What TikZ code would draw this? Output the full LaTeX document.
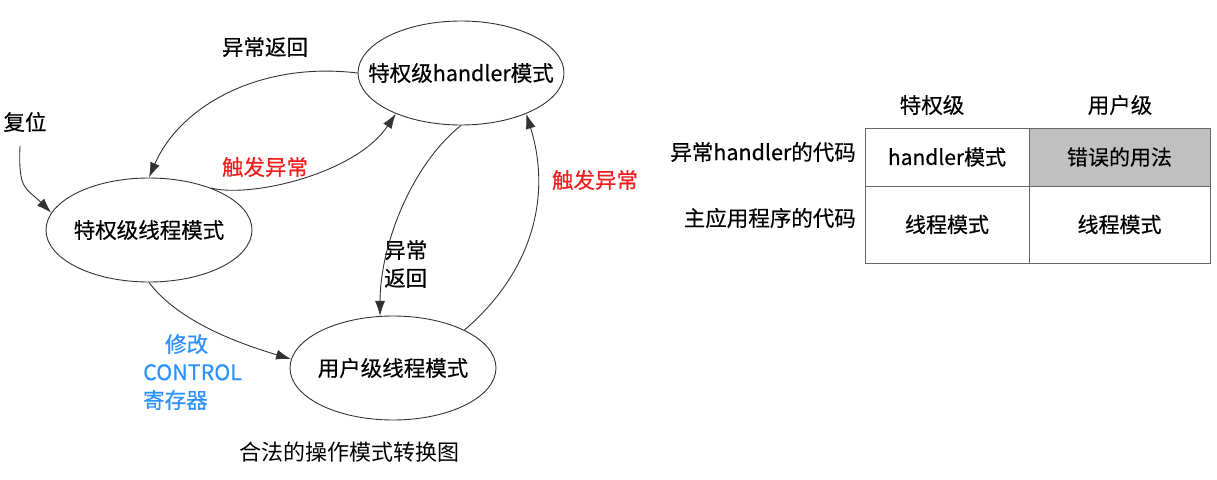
\documentclass[tikz,border=0pt]{standalone}
\usepackage{fontspec}
\setmainfont{Noto Sans CJK SC}
\newfontfamily\diagfont{Noto Sans CJK SC}[FakeBold=0.4]
\usetikzlibrary{shapes.geometric,arrows.meta}

\definecolor{trigred}{RGB}{240,30,30}
\definecolor{ctrlblue}{RGB}{45,145,255}
\definecolor{wronggray}{RGB}{192,192,192}

\begin{document}
\begin{tikzpicture}[x=1pt,y=-1pt,
	mode/.style={ellipse,draw=black!80,line width=0.9pt,minimum width=206pt,minimum height=104pt,inner sep=0pt,inner xsep=-20pt,font=\diagfont\fontsize{21.5}{24}\selectfont},
	trans/.style={draw=black!80,line width=0.9pt,-{Latex[length=15pt,width=10pt]}},
	lbl/.style={font=\diagfont\fontsize{21.5}{28}\selectfont,align=left,inner sep=0pt},
	cell/.style={rectangle,draw=black!60,inner sep=0pt,font=\diagfont\fontsize{21}{24}\selectfont}]
	\useasboundingbox (0,0) rectangle (1217,479);
	
	% modes
	\node[mode] (hdl) at (461,73) {特权级handler模式};
	\node[mode] (thr) at (149,230) {特权级线程模式};
	\node[mode] (usr) at (393,368) {用户级线程模式};
	\coordinate (rst) at (20,146);
	
	% labels
	\node[lbl] (rstlbl) at (25,122) {复位};
	\node[lbl] (ret1) at (265,47) {异常返回};
	\node[lbl,text=trigred] (trig1) at (265,167) {触发异常};
	\node[lbl,text=trigred] (trig2) at (595,180) {触发异常};
	\node[lbl,anchor=west] (ret2) at (384,264) {异常\\返回};
	\node[lbl,anchor=west,text=ctrlblue] (ctrl) at (143,372) {\hspace{22pt}修改\\CONTROL\\寄存器};
	\node[lbl,font=\fontsize{22}{24}\selectfont] (cap) at (349,452) {合法的操作模式转换图};
	
	% transitions
	\draw[trans] (hdl.west) .. controls +(-100,-12) and +(30,-70) .. (thr.north);
	\draw[trans] (thr.34) .. controls +(40,10) and +(-40,60) .. (hdl.212);
	\draw[trans] (hdl.south) .. controls +(-50,40) and +(0,-70) .. (usr.104);
	\draw[trans] (usr.28) .. controls +(70,-60) and +(25,80) .. (hdl.-32);
	\draw[trans] (rst) .. controls +(-2,45) and +(-25,-25) .. (thr.170);
	\draw[trans] (thr.south) .. controls +(30,40) and +(-50,-15) .. (usr.175);
	
	% table
	\node[cell,minimum width=164pt,minimum height=58pt] (c11) at (947,157) {handler模式\hspace{22pt}};
	\node[cell,fill=wronggray,minimum width=181pt,minimum height=58pt] (c12) at (1119.5,157) {错误的用法};
	\node[cell,minimum width=164pt,minimum height=77pt] (c21) at (947,224.5) {线程模式\hspace{22pt}};
	\node[cell,minimum width=181pt,minimum height=77pt] (c22) at (1119.5,224.5) {线程模式\hspace{16pt}};
	\node[lbl] (col1) at (932,105) {特权级};
	\node[lbl] (col2) at (1120,105) {用户级};
	\node[lbl,anchor=east] (row1) at (856,152) {异常handler的代码};
	\node[lbl,anchor=east] (row2) at (856,218) {主应用程序的代码};
\end{tikzpicture}
\end{document}
